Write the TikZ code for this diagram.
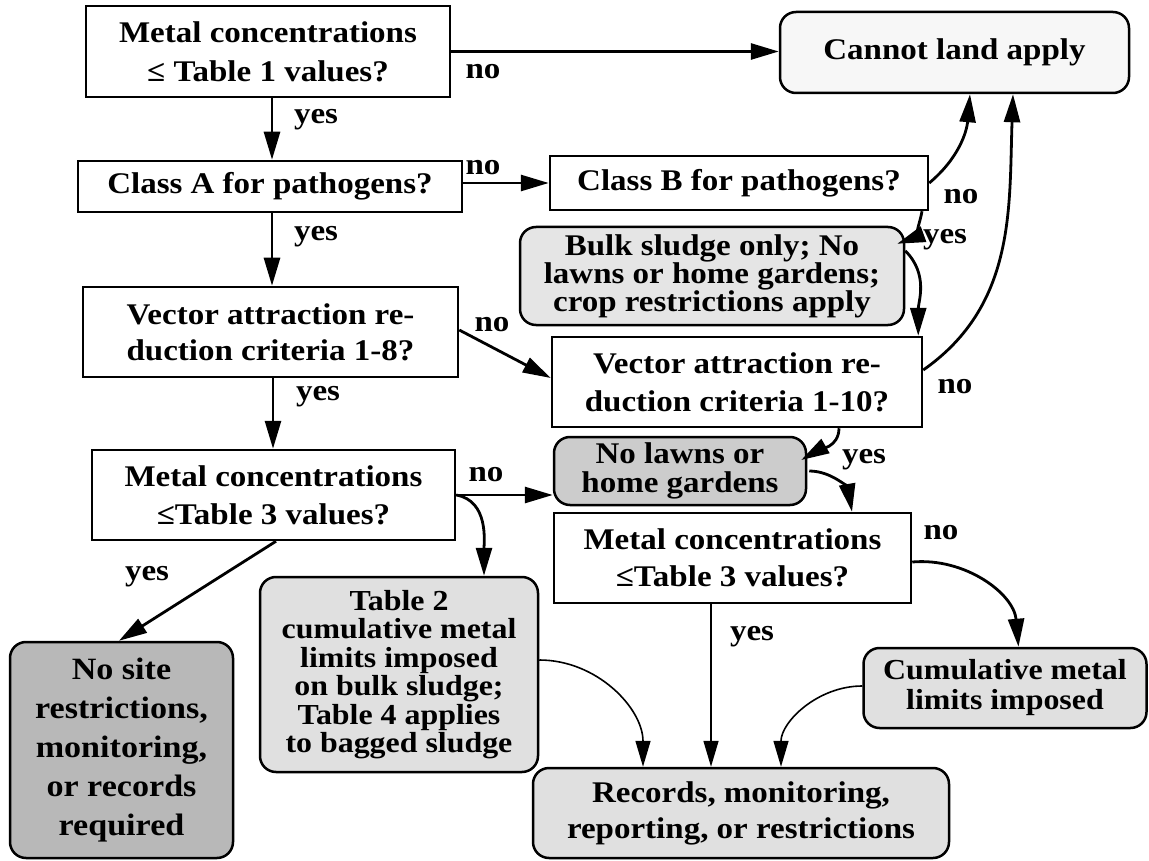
\documentclass[tikz,border=0pt]{standalone}
\usepackage{fontspec}
\setmainfont{Liberation Serif}[FakeStretch=1.1]
\usetikzlibrary{arrows.meta,calc}
\begin{document}
\begin{tikzpicture}[x=1pt,y=-1pt,
  fsz/.style 2 args={font=\bfseries\fontsize{#1}{#2}\selectfont},
  base/.style={inner sep=0pt, align=center, fsz={30}{36}, line width=2.5pt},
  qbox/.style={base, draw, rectangle},
  rbox/.style={base, draw, rounded corners=16pt},
  lab/.style={fsz={30}{30}, inner sep=0pt},
  arr/.style={line width=2.8pt, -{Triangle[length=28pt,width=16pt]}},
  tarr/.style={line width=1.6pt, -{Triangle[length=26pt,width=15pt]}},
]
\fill[white] (0,0) rectangle (1149,861);
\useasboundingbox (0,0) rectangle (1149,861);

% boxes
\node[qbox, minimum width=364pt, minimum height=91pt, fsz={30}{39}] (n1) at (268,51.5) {Metal concentrations\\≤ Table 1 values?};
\node[rbox, fill=black!3, minimum width=349pt, minimum height=81pt] (cannot) at (954.5,52.5) {Cannot land apply};
\node[qbox, minimum width=384pt, minimum height=51pt] (classA) at (270,186.5) {Class A for pathogens?};
\node[qbox, minimum width=378pt, minimum height=54pt] (classB) at (739,183) {Class B for pathogens?};
\node[rbox, fill=black!10, minimum width=384pt, minimum height=98pt, fsz={30}{28}] (bulk) at (712,276) {Bulk sludge only; No\\lawns or home gardens;\\crop restrictions apply};
\node[qbox, minimum width=375pt, minimum height=90pt, fsz={30}{36}] (n6) at (270.5,332) {Vector attraction re-\\duction criteria 1-8?};
\node[qbox, minimum width=370pt, minimum height=90pt, fsz={30}{38}] (n7) at (737,382) {Vector attraction re-\\duction criteria 1-10?};
\node[rbox, fill=black!20, minimum width=252pt, minimum height=68pt, fsz={30}{29}] (nolawns) at (680,471) {No lawns or\\home gardens};
\node[qbox, minimum width=363pt, minimum height=90pt, fsz={30}{38}] (t3l) at (273.5,495) {Metal concentrations\\≤Table 3 values?};
\node[qbox, minimum width=357pt, minimum height=90pt, fsz={30}{37}] (t3r) at (732.5,558) {Metal concentrations\\≤Table 3 values?};
\node[rbox, fill=black!12, minimum width=278pt, minimum height=195pt, fsz={29}{28.5}] (table2) at (399,674.5) {Table 2\\cumulative metal\\limits imposed\\on bulk sludge;\\Table 4 applies\\to bagged sludge};
\node[rbox, fill=black!28, minimum width=223pt, minimum height=216pt, fsz={31}{39}] (nosite) at (121.5,750) {No site\\restrictions,\\monitoring,\\or records\\required};
\node[rbox, fill=black!12, minimum width=283pt, minimum height=80pt, fsz={29}{30}] (cumul) at (1005,688) {Cumulative metal\\limits imposed};
\node[rbox, fill=black!12, minimum width=416pt, minimum height=90pt, fsz={30}{36}] (records) at (741,813) {Records, monitoring,\\reporting, or restrictions};

% connectors
\draw[arr] (n1.east) -- (n1.east -| cannot.west);
\draw[arr] ([xshift=4pt]n1.south) -- ([xshift=2pt]classA.north);
\draw[arr] (classA.east |- classB.west) -- (classB.west);
\draw[arr] ([xshift=2pt]classA.south) -- ([xshift=1.5pt]n6.north);
\draw[arr] (classB.east) to[out=40,in=-95] ([xshift=15.5pt]cannot.south);
\draw[arr] ([xshift=183pt]classB.south) to[out=-100,in=20] ([xshift=-8pt,yshift=-18pt]bulk.north east);
\draw[arr] ([yshift=-25pt]bulk.north east) to[out=-45,in=90] ([xshift=-5pt]n7.north east);
\draw[arr] ([yshift=2pt]n6.east) -- ([yshift=4pt]n7.west);
\draw[arr] ([yshift=12pt]n7.east) to[out=35,in=-92] ([xshift=58.5pt]cannot.south);
\draw[arr] ([xshift=2.5pt]n6.south) -- ([xshift=-0.5pt]t3l.north);
\draw[arr] ([xshift=102pt]n7.south) to[out=-90,in=30] ([xshift=-6pt,yshift=11pt]nolawns.east);
\draw[arr] ([xshift=2pt]nolawns.east) to[out=0,in=100] ([xshift=119.5pt]t3r.north);
\draw[arr] (t3l.east) -- (t3l.east -| nolawns.west);
\draw[arr] (t3l.east) to[out=-10,in=90] ([xshift=85pt]table2.north);
\draw[arr] ([xshift=2.5pt]t3l.south) -- ([xshift=-2.5pt]nosite.north);
\draw[arr] ([yshift=-4pt]t3r.east) to[out=5,in=95] ([xshift=13.5pt]cumul.north);
\draw[tarr] ([xshift=-21.5pt]t3r.south) -- ([xshift=-21.5pt]t3r.south |- records.north);
\draw[tarr] ([yshift=14.5pt]table2.east) to[out=0,in=90] ([xshift=-98pt]records.north);
\draw[tarr] ([yshift=2pt]cumul.west) to[out=180,in=90] ([xshift=40pt]records.north);

% labels
\node[lab] (l1) at (483,72) {no};
\node[lab] (l2) at (316,120) {yes};
\node[lab] (l3) at (483,168) {no};
\node[lab] (l4) at (316,237) {yes};
\node[lab] (l5) at (961,197) {no};
\node[lab] (l6) at (945,240) {yes};
\node[lab] (l7) at (492,325) {no};
\node[lab] (l8) at (318,397) {yes};
\node[lab] (l9) at (955,387) {no};
\node[lab] (l10) at (864,460) {yes};
\node[lab] (l11) at (486,475) {no};
\node[lab] (l12) at (147,577) {yes};
\node[lab] (l13) at (941,533) {no};
\node[lab] (l14) at (752,637) {yes};
\end{tikzpicture}
\end{document}
